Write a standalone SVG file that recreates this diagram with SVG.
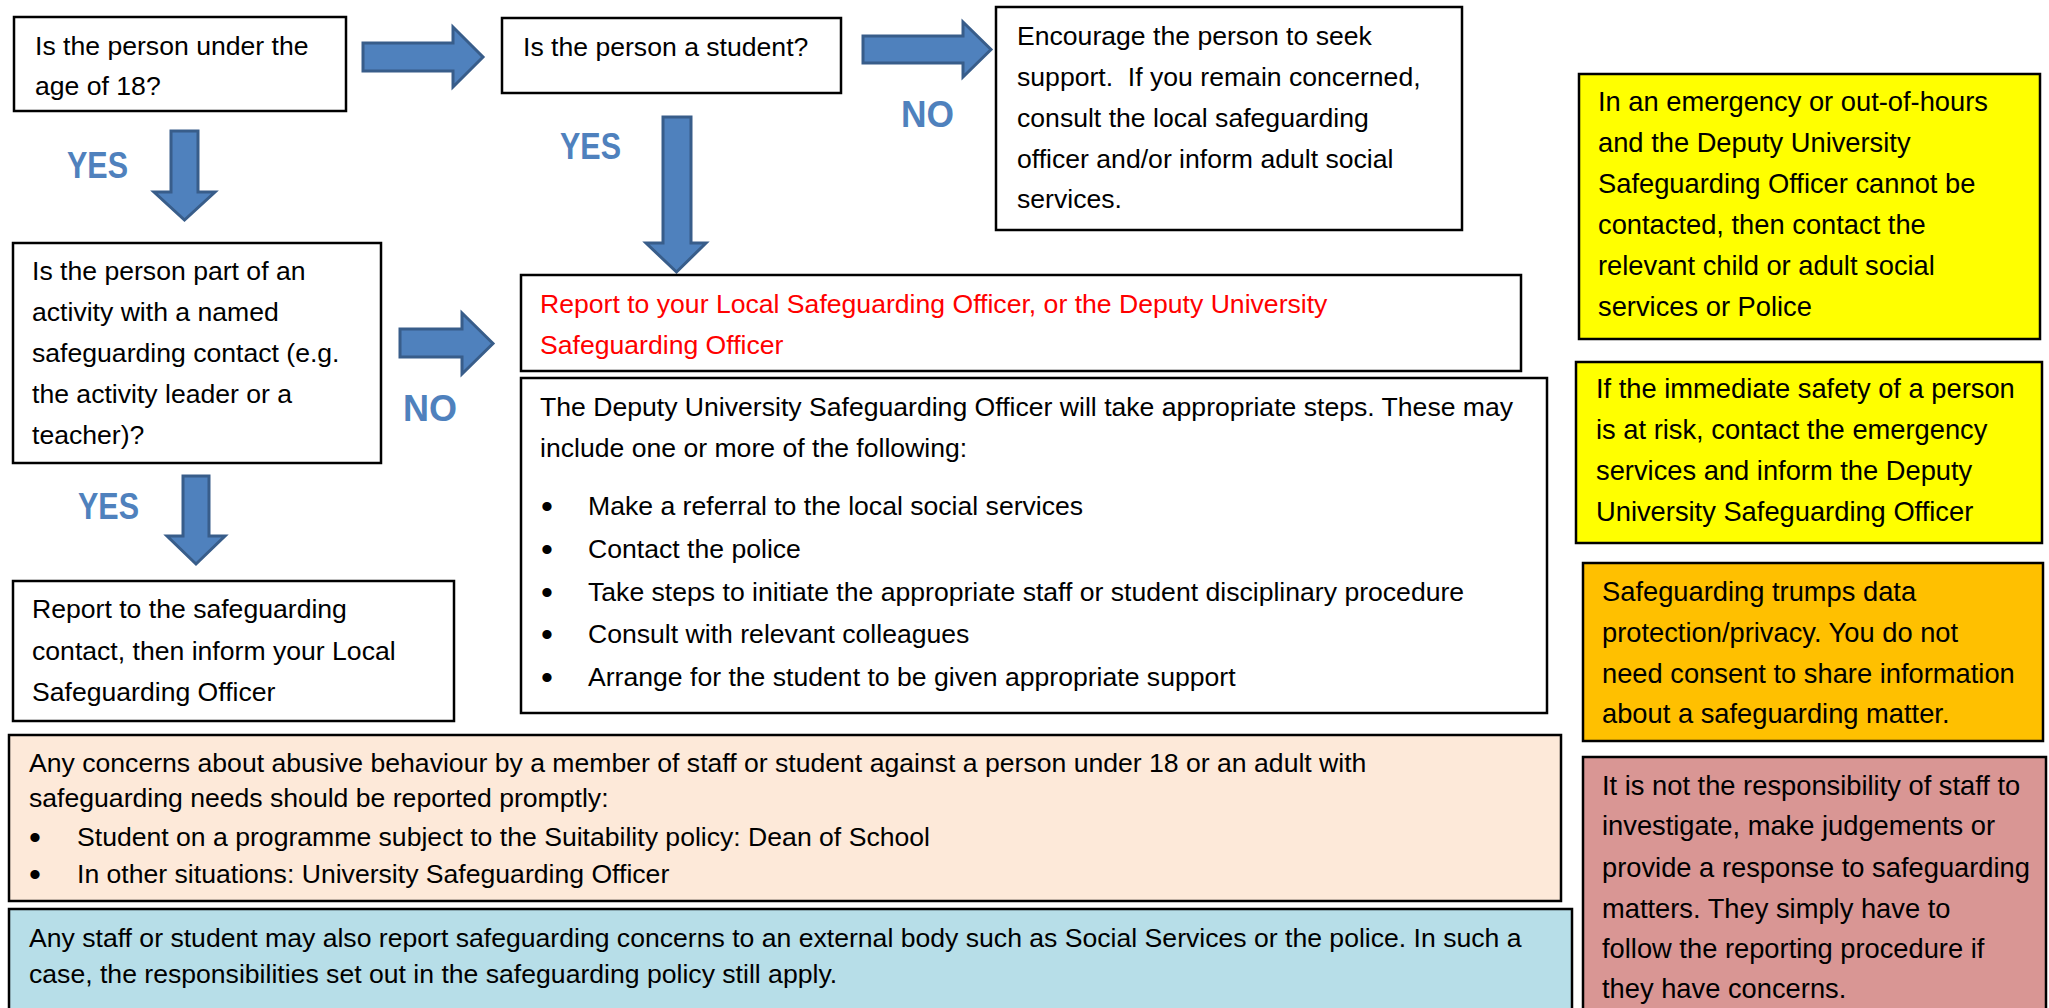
<svg xmlns="http://www.w3.org/2000/svg" width="2049" height="1008" viewBox="0 0 2049 1008">
<style>
.box{stroke:#000;stroke-width:2.5}
.w{fill:#fff}
.t{font-family:"Liberation Sans",Arial,sans-serif;font-size:26.6px;fill:#000}
.tr{font-family:"Liberation Sans",Arial,sans-serif;font-size:27.3px;fill:#000}
.red{fill:#FF0000}
.b{font-family:"Liberation Sans",Arial,sans-serif;font-size:34px;fill:#000}
.lab{font-family:"Liberation Sans",Arial,sans-serif;font-weight:bold;font-size:36px;fill:#4F81BD}
.arrow{fill:#4F81BD;stroke:#385D8A;stroke-width:3;stroke-linejoin:miter}
</style>
<rect x="0" y="0" width="2049" height="1008" fill="#fff"/>

<g id="connectors">
  <polygon class="arrow" points="363,43 453,43 453,27 483,57 453,87 453,71 363,71"/>
  <polygon class="arrow" points="863,36 963,36 963,22 991,49.5 963,77 963,63 863,63"/>
  <polygon class="arrow" points="400,329 462,329 462,313 493,343.5 462,374 462,357 400,357"/>
  <polygon class="arrow" points="171,131 198,131 198,192 215,192 184.5,220 154,192 171,192"/>
  <polygon class="arrow" points="663,117 691,117 691,243 706,243 676.5,272 646,243 663,243"/>
  <polygon class="arrow" points="183,476 209,476 209,536 225,536 196,564 167,536 183,536"/>
  <text class="lab" x="67" y="178" textLength="61" lengthAdjust="spacingAndGlyphs">YES</text>
  <text class="lab" x="560" y="159" textLength="61" lengthAdjust="spacingAndGlyphs">YES</text>
  <text class="lab" x="78" y="519" textLength="61" lengthAdjust="spacingAndGlyphs">YES</text>
  <text class="lab" x="901" y="127" textLength="53" lengthAdjust="spacingAndGlyphs">NO</text>
  <text class="lab" x="403" y="421" textLength="54" lengthAdjust="spacingAndGlyphs">NO</text>
</g>

<g id="under18">
  <rect class="box w" x="14" y="17" width="332" height="94"/>
  <text class="t" x="35" y="55">Is the person under the</text>
  <text class="t" x="35" y="95">age of 18?</text>
</g>

<g id="student">
  <rect class="box w" x="502" y="18" width="339" height="75"/>
  <text class="t" x="523" y="56">Is the person a student?</text>
</g>

<g id="encourage">
  <rect class="box w" x="996" y="7" width="466" height="223"/>
  <text class="t" x="1017" y="45">Encourage the person to seek</text>
  <text class="t" x="1017" y="86">support.&#160; If you remain concerned,</text>
  <text class="t" x="1017" y="127">consult the local safeguarding</text>
  <text class="t" x="1017" y="168">officer and/or inform adult social</text>
  <text class="t" x="1017" y="208">services.</text>
</g>

<g id="activity">
  <rect class="box w" x="13" y="243" width="368" height="220"/>
  <text class="t" x="32" y="280">Is the person part of an</text>
  <text class="t" x="32" y="321">activity with a named</text>
  <text class="t" x="32" y="362">safeguarding contact (e.g.</text>
  <text class="t" x="32" y="403">the activity leader or a</text>
  <text class="t" x="32" y="444">teacher)?</text>
</g>

<g id="report-local">
  <rect class="box w" x="521" y="275" width="1000" height="96"/>
  <text class="t red" x="540" y="313">Report to your Local Safeguarding Officer, or the Deputy University</text>
  <text class="t red" x="540" y="354">Safeguarding Officer</text>
</g>

<g id="deputy-steps">
  <rect class="box w" x="521" y="378" width="1026" height="335"/>
  <text class="t" x="540" y="416">The Deputy University Safeguarding Officer will take appropriate steps. These may</text>
  <text class="t" x="540" y="457">include one or more of the following:</text>
  <text class="b" x="541" y="518">•</text>
  <text class="t" x="588" y="515">Make a referral to the local social services</text>
  <text class="b" x="541" y="561">•</text>
  <text class="t" x="588" y="558">Contact the police</text>
  <text class="b" x="541" y="604">•</text>
  <text class="t" x="588" y="601">Take steps to initiate the appropriate staff or student disciplinary procedure</text>
  <text class="b" x="541" y="646">•</text>
  <text class="t" x="588" y="643">Consult with relevant colleagues</text>
  <text class="b" x="541" y="689">•</text>
  <text class="t" x="588" y="686">Arrange for the student to be given appropriate support</text>
</g>

<g id="report-contact">
  <rect class="box w" x="13" y="581" width="441" height="140"/>
  <text class="t" x="32" y="618">Report to the safeguarding</text>
  <text class="t" x="32" y="660">contact, then inform your Local</text>
  <text class="t" x="32" y="701">Safeguarding Officer</text>
</g>

<g id="abuse-concerns">
  <rect class="box" fill="#FDE9D9" x="9" y="735" width="1552" height="166"/>
  <text class="t" x="29" y="772">Any concerns about abusive behaviour by a member of staff or student against a person under 18 or an adult with</text>
  <text class="t" x="29" y="807">safeguarding needs should be reported promptly:</text>
  <text class="b" x="29" y="849">•</text>
  <text class="t" x="77" y="846">Student on a programme subject to the Suitability policy: Dean of School</text>
  <text class="b" x="29" y="886">•</text>
  <text class="t" x="77" y="883">In other situations: University Safeguarding Officer</text>
</g>

<g id="external-body">
  <rect class="box" fill="#B7DEE8" x="9" y="909" width="1563" height="120"/>
  <text class="t" x="29" y="947">Any staff or student may also report safeguarding concerns to an external body such as Social Services or the police. In such a</text>
  <text class="t" x="29" y="983">case, the responsibilities set out in the safeguarding policy still apply.</text>
</g>

<g id="emergency">
  <rect class="box" fill="#FFFF00" x="1579" y="74" width="461" height="265"/>
  <text class="tr" x="1598" y="111">In an emergency or out-of-hours</text>
  <text class="tr" x="1598" y="152">and the Deputy University</text>
  <text class="tr" x="1598" y="193">Safeguarding Officer cannot be</text>
  <text class="tr" x="1598" y="234">contacted, then contact the</text>
  <text class="tr" x="1598" y="275">relevant child or adult social</text>
  <text class="tr" x="1598" y="316">services or Police</text>
</g>

<g id="immediate-safety">
  <rect class="box" fill="#FFFF00" x="1576" y="362" width="466" height="181"/>
  <text class="tr" x="1596" y="398">If the immediate safety of a person</text>
  <text class="tr" x="1596" y="439">is at risk, contact the emergency</text>
  <text class="tr" x="1596" y="480">services and inform the Deputy</text>
  <text class="tr" x="1596" y="521">University Safeguarding Officer</text>
</g>

<g id="data-protection">
  <rect class="box" fill="#FFC000" x="1583" y="563" width="460" height="178"/>
  <text class="tr" x="1602" y="601">Safeguarding trumps data</text>
  <text class="tr" x="1602" y="642">protection/privacy. You do not</text>
  <text class="tr" x="1602" y="683">need consent to share information</text>
  <text class="tr" x="1602" y="723">about a safeguarding matter.</text>
</g>

<g id="not-responsibility">
  <rect class="box" fill="#D99694" x="1583" y="757" width="463" height="270"/>
  <text class="tr" x="1602" y="795">It is not the responsibility of staff to</text>
  <text class="tr" x="1602" y="835">investigate, make judgements or</text>
  <text class="tr" x="1602" y="877">provide a response to safeguarding</text>
  <text class="tr" x="1602" y="918">matters. They simply have to</text>
  <text class="tr" x="1602" y="958">follow the reporting procedure if</text>
  <text class="tr" x="1602" y="998">they have concerns.</text>
</g>
</svg>
